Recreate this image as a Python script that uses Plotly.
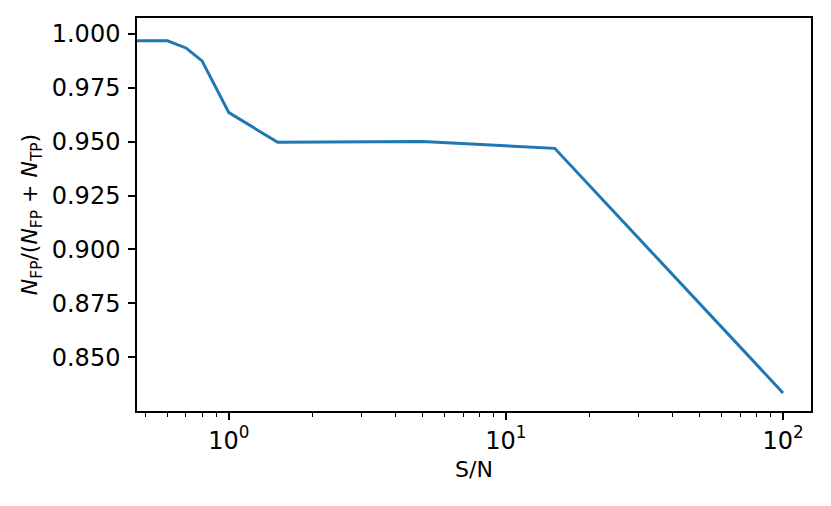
import numpy as np
import plotly.graph_objects as go

# S/N values and false-positive fraction
snr = [0.4, 0.6, 0.7, 0.8, 1.0, 1.5, 5.0, 15.0, 100.0]
fp_fraction = [0.9968, 0.9968, 0.9935, 0.9875, 0.9635, 0.9497, 0.9501, 0.9469, 0.8334]

x_major = [1, 10, 100]
x_major_text = ["10<sup>0</sup>", "10<sup>1</sup>", "10<sup>2</sup>"]
y_ticks = [0.850, 0.875, 0.900, 0.925, 0.950, 0.975, 1.000]

minor_vals = [m * 10.0 ** e for e in (-1, 0, 1) for m in range(2, 10)]

fig = go.Figure()

fig.add_trace(go.Scatter(
    x=snr,
    y=fp_fraction,
    mode="lines",
    line=dict(color="#1f77b4", width=3),
    showlegend=False
))

axis_common = dict(
    showline=True,
    linecolor="black",
    linewidth=1.5,
    mirror=True,
    ticks="outside",
    ticklen=7,
    tickwidth=1.5,
    tickcolor="black",
    showgrid=False,
    zeroline=False,
    tickfont=dict(size=24, color="black"),
)

fig.update_xaxes(
    type="log",
    range=[np.log10(0.466), 2.101],
    tickvals=x_major,
    ticktext=x_major_text,
    minor=dict(ticks="outside", ticklen=4, tickwidth=1, tickcolor="black",
               tickvals=minor_vals, showgrid=False),
    title=dict(text="S/N", font=dict(size=22, color="black"), standoff=8),
    **axis_common
)

fig.update_yaxes(
    range=[0.825, 1.0074],
    tickvals=y_ticks,
    tickformat=".3f",
    ticklabelstandoff=3,
    title=dict(
        text="<i>N</i><sub>FP</sub>/(<i>N</i><sub>FP</sub> + <i>N</i><sub>TP</sub>)",
        font=dict(size=22, color="black"),
        standoff=8
    ),
    **axis_common
)

fig.update_layout(
    width=831,
    height=506,
    margin=dict(l=129, r=28, t=8, b=103),
    plot_bgcolor="white",
    paper_bgcolor="white",
    font=dict(family="DejaVu Sans", color="black"),
)

fig.write_html("out.html")
